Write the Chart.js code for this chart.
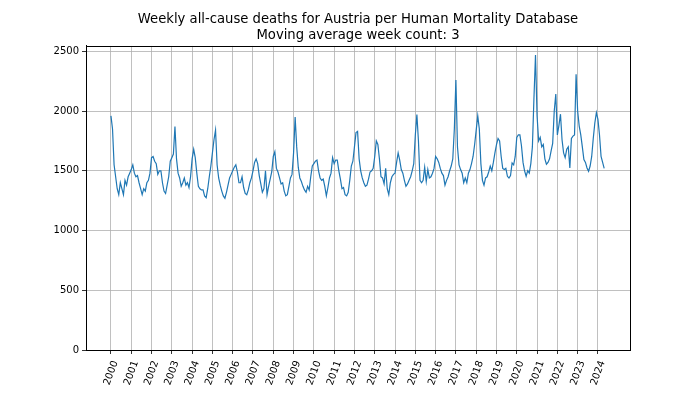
<!DOCTYPE html>
<html>
<head>
<meta charset="utf-8">
<script src="https://cdn.jsdelivr.net/npm/chart.js@4"></script>
<style>
  html, body { margin: 0; padding: 0; background: #fff; }
  canvas { display: block; }
</style>
</head>
<body>
<canvas id="deathsCanvas" width="700" height="394"></canvas>
<script>
// 4-week samples of the 3-week moving average, 13 per year
const d2000 = [1960, 1850, 1550, 1450, 1350, 1300, 1400, 1350, 1300, 1420, 1380, 1450, 1480];
const d2001 = [1510, 1550, 1480, 1450, 1460, 1400, 1350, 1300, 1350, 1330, 1400, 1420, 1480];
const d2002 = [1610, 1620, 1580, 1560, 1470, 1500, 1500, 1400, 1330, 1310, 1380, 1450, 1580];
const d2003 = [1610, 1640, 1870, 1600, 1480, 1440, 1370, 1400, 1440, 1380, 1400, 1360, 1450];
const d2004 = [1600, 1680, 1610, 1480, 1370, 1350, 1340, 1340, 1290, 1275, 1350, 1450, 1540];
const d2005 = [1650, 1760, 1840, 1550, 1440, 1380, 1330, 1290, 1270, 1320, 1380, 1440, 1470];
const d2006 = [1500, 1530, 1550, 1490, 1400, 1400, 1450, 1360, 1310, 1300, 1340, 1400, 1440];
const d2007 = [1500, 1570, 1600, 1560, 1460, 1390, 1320, 1350, 1500, 1300, 1370, 1430, 1490];
const d2008 = [1620, 1660, 1520, 1490, 1440, 1390, 1400, 1330, 1290, 1300, 1370, 1440, 1470];
const d2009 = [1650, 1950, 1700, 1530, 1440, 1410, 1370, 1340, 1320, 1370, 1340, 1450, 1540];
const d2010 = [1560, 1580, 1590, 1500, 1440, 1420, 1430, 1370, 1290, 1360, 1440, 1480, 1610];
const d2011 = [1560, 1590, 1590, 1500, 1430, 1350, 1360, 1300, 1290, 1320, 1420, 1540, 1580];
const d2012 = [1700, 1820, 1830, 1600, 1500, 1440, 1400, 1370, 1380, 1430, 1490, 1500, 1520];
const d2013 = [1620, 1750, 1720, 1600, 1450, 1440, 1390, 1520, 1350, 1300, 1400, 1450, 1470];
const d2014 = [1480, 1570, 1650, 1590, 1510, 1480, 1420, 1370, 1390, 1420, 1450, 1500, 1560];
const d2015 = [1800, 1970, 1750, 1420, 1400, 1420, 1530, 1410, 1510, 1440, 1450, 1480, 1520];
const d2016 = [1620, 1600, 1570, 1520, 1480, 1460, 1380, 1420, 1450, 1500, 1540, 1600, 1850];
const d2017 = [2260, 1700, 1550, 1510, 1480, 1400, 1440, 1400, 1480, 1510, 1560, 1620, 1720];
const d2018 = [1840, 1960, 1850, 1560, 1420, 1380, 1440, 1450, 1490, 1540, 1500, 1570, 1650];
const d2019 = [1720, 1770, 1750, 1620, 1520, 1510, 1520, 1454, 1440, 1460, 1566, 1550, 1620];
const d2020 = [1780, 1800, 1800, 1710, 1570, 1500, 1454, 1500, 1480, 1560, 1700, 2110, 2470];
const d2021 = [1960, 1750, 1780, 1700, 1720, 1600, 1555, 1570, 1600, 1667, 1730, 2000, 2142];
const d2022 = [1800, 1880, 1974, 1760, 1650, 1610, 1680, 1700, 1524, 1770, 1790, 1800, 2307];
const d2023 = [2000, 1874, 1800, 1700, 1594, 1570, 1524, 1496, 1540, 1620, 1770, 1900, 1986];
const d2024 = [1930, 1800, 1620, 1570, 1520];

const years = [2000, 2001, 2002, 2003, 2004, 2005, 2006, 2007, 2008, 2009, 2010, 2011, 2012,
               2013, 2014, 2015, 2016, 2017, 2018, 2019, 2020, 2021, 2022, 2023, 2024];
const yearlyDeaths = [d2000, d2001, d2002, d2003, d2004, d2005, d2006, d2007, d2008, d2009,
                      d2010, d2011, d2012, d2013, d2014, d2015, d2016, d2017, d2018, d2019,
                      d2020, d2021, d2022, d2023, d2024];
const yTicks = [0, 500, 1000, 1500, 2000, 2500];

const points = yearlyDeaths.flatMap((vals, k) =>
    vals.map((v, i) => ({ x: years[k] + i / 13, y: v }))
);

const fontFamily = "'DejaVu Sans', sans-serif";
const gridColor = '#b0b0b0';

// matplotlib style closed box around the axes
const frameBox = {
    id: 'frameBox',
    afterDatasetsDraw(chart) {
        const { ctx, chartArea: a } = chart;
        ctx.save();
        ctx.strokeStyle = '#000';
        ctx.lineWidth = 1;
        ctx.strokeRect(Math.round(a.left) + 0.5, Math.round(a.top) + 0.5,
                       Math.round(a.right - a.left), Math.round(a.bottom - a.top));
        ctx.restore();
    }
};

const ctx = document.getElementById('deathsCanvas').getContext('2d');

new Chart(ctx, {
    type: 'line',
    data: {
        datasets: [{
            data: points,
            borderColor: '#1f77b4',
            borderWidth: 1.2,
            pointRadius: 0,
            fill: false,
            tension: 0
        }]
    },
    options: {
        responsive: false,
        animation: false,
        events: [],
        layout: { padding: { left: 0, right: 70, top: 0, bottom: 0 } },
        plugins: {
            legend: { display: false },
            tooltip: { enabled: false },
            title: {
                display: true,
                fullSize: false,
                text: ['Weekly all-cause deaths for Austria per Human Mortality Database',
                       'Moving average week count: 3'],
                color: '#000',
                font: { family: fontFamily, size: 13.2, weight: 'normal', lineHeight: 1.21 },
                padding: { top: 12, bottom: 2 }
            }
        },
        scales: {
            x: {
                type: 'linear',
                min: 1998.77,
                max: 2025.58,
                afterBuildTicks: (scale) => {
                    scale.ticks = years.map(y => ({ value: y }));
                },
                afterFit: (scale) => { scale.height = 44; },
                grid: { color: gridColor, lineWidth: 0.8, tickColor: '#000', tickLength: 4 },
                border: { color: '#000', width: 1 },
                ticks: {
                    autoSkip: false,
                    maxRotation: 70,
                    minRotation: 70,
                    padding: 5,
                    labelOffset: 4.5,
                    color: '#000',
                    font: { family: fontFamily, size: 10 },
                    callback: (value) => String(value)
                }
            },
            y: {
                min: 0,
                max: 2545,
                afterBuildTicks: (scale) => {
                    scale.ticks = yTicks.map(v => ({ value: v }));
                },
                afterFit: (scale) => { scale.width = 86; },
                grid: { color: gridColor, lineWidth: 0.8, tickColor: '#000', tickLength: 4 },
                border: { color: '#000', width: 1 },
                ticks: {
                    padding: 3,
                    color: '#000',
                    font: { family: fontFamily, size: 10 },
                    callback: (value) => String(value)
                }
            }
        }
    },
    plugins: [frameBox]
});
</script>
</body>
</html>
